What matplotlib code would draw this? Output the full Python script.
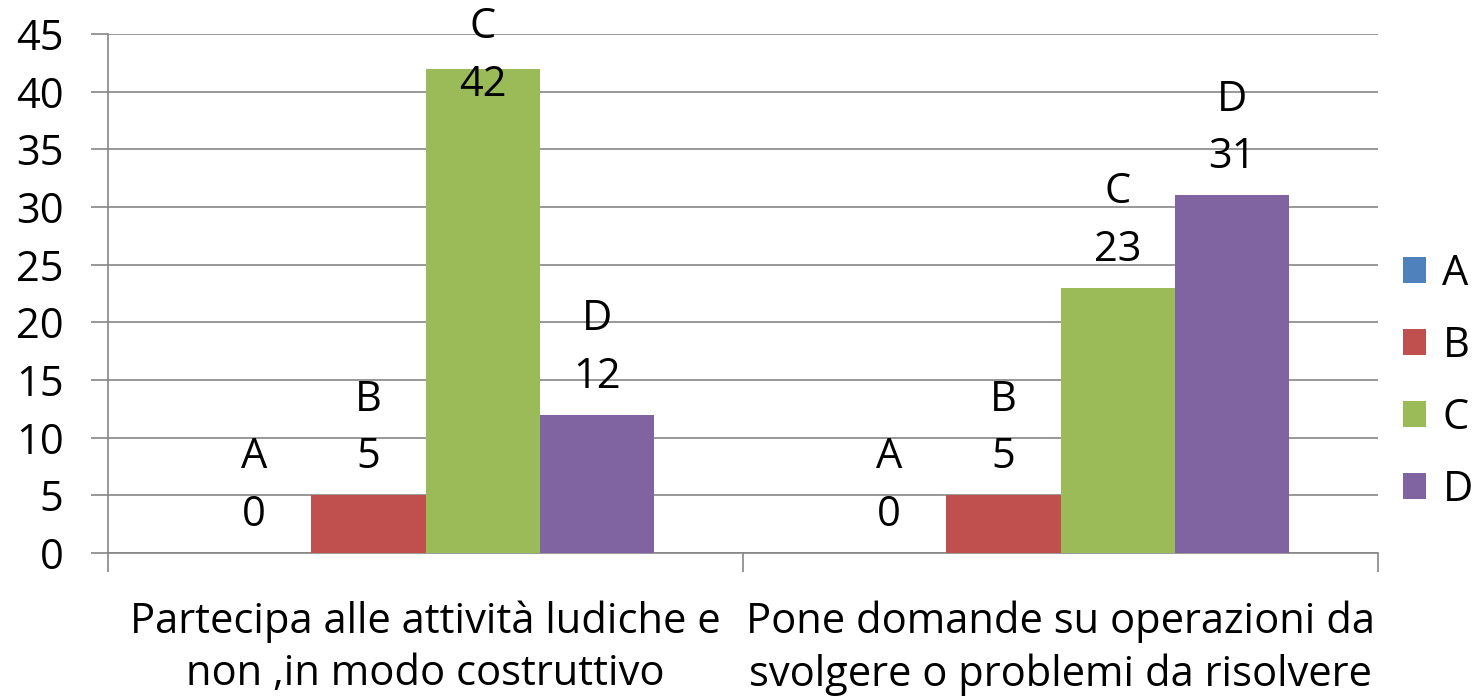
import matplotlib.pyplot as plt
import numpy as np

plt.rcParams['font.family'] = ['Open Sans', 'DejaVu Sans']

categorie = ['Partecipa alle attività ludiche e\nnon ,in modo costruttivo',
             'Pone domande su operazioni da\nsvolgere o problemi da risolvere']
serie = ['A', 'B', 'C', 'D']
valori = {'A': [0, 0], 'B': [5, 5], 'C': [42, 23], 'D': [12, 31]}
colori = {'A': '#4F81BD', 'B': '#C0504D', 'C': '#9BBB59', 'D': '#8064A2'}

fig = plt.figure(figsize=(14.84, 6.96), dpi=100)
ax = fig.add_axes([108/1484, 1-553/696, (1378-108)/1484, (553-34)/696])

x = np.arange(len(categorie))
larg = 0.18
offs = [-0.27, -0.09, 0.09, 0.27]
fs = 30

for s, o in zip(serie, offs):
    ax.bar(x + o, valori[s], larg, color=colori[s], label=s, zorder=3)
    for xi, v in zip(x, valori[s]):
        yn = min(v + 3.3, 40.6)
        ax.text(xi + o, yn, str(v), ha='center', va='center', fontsize=fs)
        ax.text(xi + o, yn + 5, s, ha='center', va='center', fontsize=fs)

ax.set_xlim(-0.5, 1.5)
ax.set_ylim(0, 45)
ax.set_yticks(range(0, 46, 5))
ax.grid(axis='y', color='#868686', linewidth=1.2, zorder=0)
ax.set_xticks(x)
ax.set_xticklabels(categorie, fontsize=fs, linespacing=1.32)
ax.set_xticks([-0.5, 0.5, 1.5], minor=True)
ax.tick_params(axis='x', which='major', length=0, pad=34)
ax.tick_params(axis='x', which='minor', length=14, color='#868686', width=1.2)
ax.tick_params(axis='y', labelsize=fs, length=12, color='#868686', width=1.2, pad=20)
for sp in ['top', 'right']:
    ax.spines[sp].set_visible(False)
for sp in ['left', 'bottom']:
    ax.spines[sp].set_color('#868686')
    ax.spines[sp].set_linewidth(1.2)

ax.legend(loc='center left', bbox_to_anchor=(0.99, 0.33), frameon=False, fontsize=fs,
          handlelength=0.55, handleheight=0.55, labelspacing=0.72, handletextpad=0.4)

fig.savefig('out.png', dpi=100)
